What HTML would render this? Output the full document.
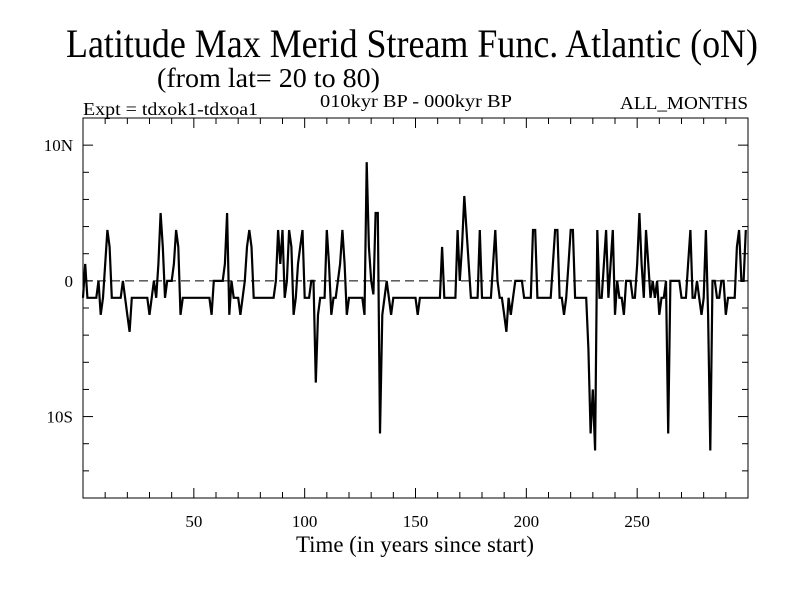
<!DOCTYPE html>
<html><head><meta charset="utf-8"><style>body{margin:0;background:#fff}svg{display:block}text{font-family:"Liberation Serif",serif;fill:#000}</style></head>
<body>
<svg id="chart" width="800" height="600" viewBox="0 0 800 600">
<text x="66" y="57" font-size="40" textLength="692" lengthAdjust="spacingAndGlyphs">Latitude Max Merid Stream Func. Atlantic (oN)</text>
<text x="157" y="87" font-size="27" textLength="223" lengthAdjust="spacingAndGlyphs">(from lat= 20 to 80)</text>
<text x="83" y="115" font-size="18" textLength="175" lengthAdjust="spacingAndGlyphs">Expt = tdxok1-tdxoa1</text>
<text x="320" y="107" font-size="18" textLength="192" lengthAdjust="spacingAndGlyphs">010kyr BP - 000kyr BP</text>
<text x="620" y="109" font-size="18" textLength="128" lengthAdjust="spacingAndGlyphs">ALL_MONTHS</text>
<text x="296" y="552" font-size="23" textLength="238" lengthAdjust="spacingAndGlyphs">Time (in years since start)</text>
<g id="axes"></g>
<path id="series" fill="none" stroke="#000" stroke-width="2.2"/>
</svg>
<script>
const xTicks=[50,100,150,200,250];
const yTicks=[10,0,-10];
const yTickLabels=["10N","0","10S"];
const values=[
-1.25,1.25,-1.25,-1.25,-1.25,-1.25,-1.25,0,-2.5,-1.25,
1.25,3.75,2.5,-1.25,-1.25,-1.25,-1.25,-1.25,0,-1.25,
-2.5,-3.75,-1.25,-1.25,-1.25,-1.25,-1.25,-1.25,-1.25,-1.25,
-2.5,-1.25,0,-1.25,1.25,5,2.5,-1.25,0,0,
0,1.25,3.75,2.5,-2.5,-1.25,-1.25,-1.25,-1.25,-1.25,
-1.25,-1.25,-1.25,-1.25,-1.25,-1.25,-1.25,-1.25,-2.5,0,
0,0,0,0,1.25,5,-2.5,0,-1.25,-1.25,
-1.25,-2.5,-1.25,0,2.5,3.75,2.5,-1.25,-1.25,-1.25,
-1.25,-1.25,-1.25,-1.25,-1.25,-1.25,-1.25,0,3.75,1.25,
3.75,-1.25,0,3.75,2.5,-2.5,-1.25,1.25,2.5,3.75,
-1.25,-1.25,-1.25,0,0,-7.5,-2.5,-1.25,-1.25,-1.25,
3.75,1.25,-2.5,-1.25,-1.25,0,1.25,3.75,1.25,-2.5,
-1.25,-1.25,-1.25,-1.25,-1.25,-1.25,-1.25,-2.5,8.75,2.5,
0,-1,5,5,-11.25,-2.5,-1.25,0,-1.25,-2.5,
-1.25,-1.25,-1.25,-1.25,-1.25,-1.25,-1.25,-1.25,-1.25,-1.25,
-1.25,-2.5,-1.25,-1.25,-1.25,-1.25,-1.25,-1.25,-1.25,-1.25,
-1.25,-1.25,2.5,-1.25,-1.25,-1.25,-1.25,-1.25,-1.25,3.75,
0,2.5,6.25,3.75,1.25,-1.25,-1.25,-1.25,-1.25,3.75,
-1.25,-1.25,-1.25,-1.25,-1.25,1.25,3.75,0,-1.25,-1.25,
-2.5,-3.75,-1.25,-2.5,-1.25,0,0,0,0,-1.25,
-1.25,-1.25,-1.25,3.75,3.75,-1.25,-1.25,-1.25,-1.25,-1.25,
-1.25,-1.25,1.25,3.75,3.75,-1.25,-1.25,-2.5,-1.25,1.25,
3.75,3.75,-1.25,-1.25,-1.25,-1.25,-1.25,-1.25,-5,-11.25,
-8,-12.5,3.75,-1.25,-1.25,1.25,3.75,-1.25,1.25,3.75,
-2.5,0,-1.25,-1.25,-2.5,0,0,0,-1.25,-1.25,
1.25,5,1.25,-1.25,3.75,1.25,-1.25,0,-1.25,0,
-2.5,-1.25,-1.25,0,-11.25,0,0,0,0,0,
-1.25,-1.25,-1.25,1.25,3.75,-1.25,-1.25,0,-1.25,-2.5,
-1.25,3.75,-2.5,-12.5,0,0,-1.25,-1.25,0,0,
-2.5,-1.25,-1.25,-1.25,-1.25,2.5,3.75,0,0,3.75];
const L=83,R=748,T=118,B=498;
const xMin=0,xMax=300,yMin=-16,yMax=12;
const X=v=>L+(v-xMin)/(xMax-xMin)*(R-L);
const Y=v=>B-(v-yMin)/(yMax-yMin)*(B-T);
const NS="http://www.w3.org/2000/svg";
const g=document.getElementById('axes');
function mk(tag,attrs,parent){const e=document.createElementNS(NS,tag);for(const k in attrs)e.setAttribute(k,attrs[k]);(parent||g).appendChild(e);return e;}
const frame=mk('rect',{x:L,y:T,width:R-L,height:B-T,fill:'none',stroke:'#000','stroke-width':1});


const zl=mk('line',{x1:L,x2:R,y1:Y(0),y2:Y(0),stroke:'#000','stroke-dasharray':'9,5'});


for(let v=10;v<300;v+=10){const major=v%50===0;const len=major?10:6;
 const t1=mk('line',{x1:X(v),x2:X(v),y1:B,y2:B-len,stroke:'#000'});
 
 
 const t2=mk('line',{x1:X(v),x2:X(v),y1:T,y2:T+len,stroke:'#000'});
 
 }
xTicks.forEach(v=>{const t=mk('text',{x:X(v),y:527,'font-size':17,'text-anchor':'middle'});t.textContent=v;
 
 });
for(let v=-16;v<=12;v+=2){const major=v%10===0;const len=major?10:6;
 const t1=mk('line',{x1:L,x2:L+len,y1:Y(v),y2:Y(v),stroke:'#000'});
 
 
 const t2=mk('line',{x1:R,x2:R-len,y1:Y(v),y2:Y(v),stroke:'#000'});
 
 }
yTicks.forEach((v,i)=>{const t=mk('text',{x:73,y:Y(v)+6,'font-size':17,'text-anchor':'end'});t.textContent=yTickLabels[i];
 
 });
document.getElementById('series').setAttribute('d',values.map((v,i)=>(i?'L':'M')+X(i).toFixed(1)+','+Y(v).toFixed(1)).join(''));
</script>
</body></html>
